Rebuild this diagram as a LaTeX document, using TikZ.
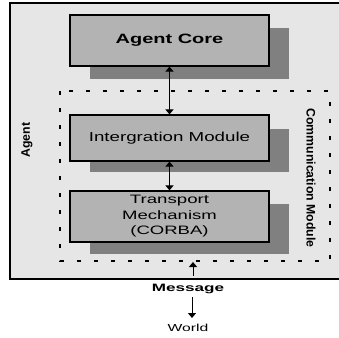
\documentclass[tikz,border=0pt]{standalone}
\usepackage{fontspec}
\setmainfont{Liberation Sans}
\usetikzlibrary{arrows.meta}
\definecolor{outerfill}{HTML}{E6E6E6}
\definecolor{boxfill}{HTML}{B3B3B3}
\definecolor{shadowfill}{HTML}{808080}
\newcommand{\widetext}[2]{\scalebox{#1}[1]{#2}}
\begin{document}
\begin{tikzpicture}[x=1pt,y=-1pt,
  modbox/.style={draw=black,line width=1.2pt,fill=boxfill,minimum width=199pt,inner sep=0pt,align=center},
  conn/.style={line width=1pt,{Triangle[width=8pt,length=5pt]}-{Triangle[width=8pt,length=5pt]}},
  oneway/.style={line width=1pt,-{Triangle[width=8pt,length=5pt]}},
  sidelabel/.style={font=\bfseries\fontsize{12.3}{14}\selectfont,inner sep=0pt}]
\useasboundingbox (0,0) rectangle (339,337);
\fill[white] (0,0) rectangle (339,337);
% outer agent box
\draw[line width=1.2pt,fill=outerfill] (10,3) rectangle (345,279);
% shadows
\fill[shadowfill] (90,28) rectangle (289,79);
\fill[shadowfill] (90,129) rectangle (289,172);
\fill[shadowfill] (90,204) rectangle (289,254);
% communication module dashed box
\draw[line width=1.3pt,dash pattern=on 4pt off 13pt] (60,91) rectangle (330,261);
% modules
\node[modbox,minimum height=51pt,font=\bfseries\fontsize{13.5}{16}\selectfont] (core) at (169.5,40.5) {\widetext{1.48}{Agent Core}};
\node[modbox,minimum height=46pt,font=\fontsize{13}{15}\selectfont] (integ) at (169.5,138) {\widetext{1.44}{Intergration Module}};
\node[modbox,minimum height=51pt,font=\fontsize{12.2}{15.5}\selectfont] (trans) at (169.5,216.5) {\widetext{1.53}{Transport}\\\widetext{1.52}{Mechanism}\\\widetext{1.52}{(CORBA)}};
% side labels
\node[sidelabel,rotate=90] (agentlbl) at (27,140) {Agent};
\node[sidelabel,rotate=-90] (commlbl) at (311,178) {Communication Module};
% connectors
\draw[conn] (core.south) -- (integ.north);
\draw[conn] (integ.south) -- (trans.north);
\coordinate (dashbot) at (193,262);
\coordinate (outbot) at (193,276);
\draw[oneway] (outbot) -- (dashbot);
\node[font=\bfseries\fontsize{10.7}{13}\selectfont,inner sep=0pt] (msg) at (188,289) {\widetext{1.6}{Message}};
\node[font=\fontsize{10.2}{13}\selectfont,inner sep=0pt] (world) at (188,328) {\widetext{1.54}{World}};
\coordinate (msgbot) at (192,297);
\coordinate (worldtop) at (192,318);
\draw[oneway] (msgbot) -- (worldtop);
\end{tikzpicture}
\end{document}
